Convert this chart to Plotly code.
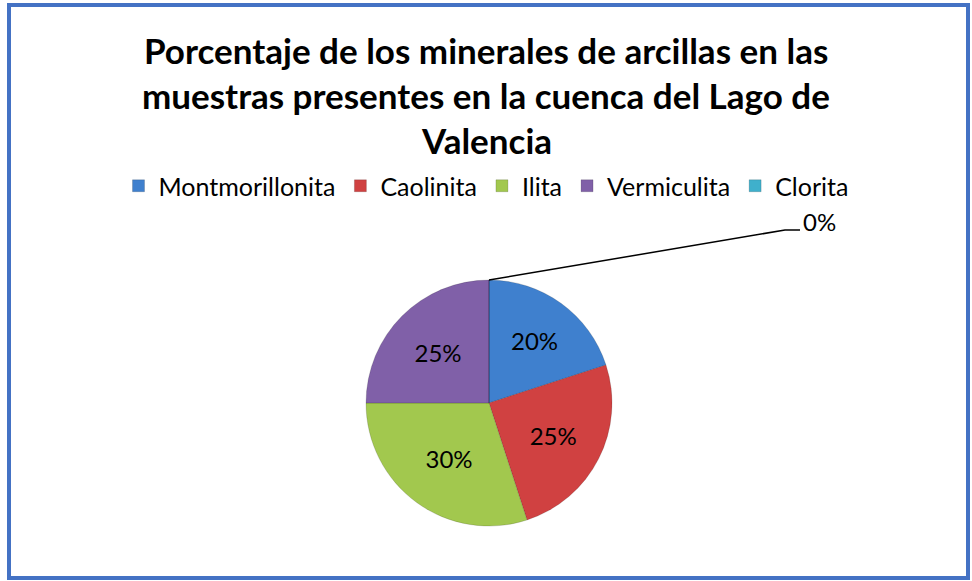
import plotly.graph_objects as go

labels = ["Montmorillonita", "Caolinita", "Ilita", "Vermiculita", "Clorita"]
values = [20, 25, 30, 25, 0]
colors = ["#3F80CE", "#D04141", "#A2C84E", "#8060A8", "#3FB0CC"]
title_lines = ["Porcentaje de los minerales de arcillas en las",
               "muestras presentes en la cuenca del Lago de",
               "Valencia"]

W, H = 972, 581
cx, cy, r = 489, 403, 123
dom_x = [(cx - r) / W, (cx + r) / W]
dom_y = [(H - cy - r) / H, (H - cy + r) / H]

fig = go.Figure(go.Pie(
    labels=labels, values=values, sort=False, direction="clockwise", rotation=0,
    marker=dict(colors=colors, line=dict(width=0.6, color="rgba(0,0,0,0.25)")),
    textinfo="percent", texttemplate="%{percent:.0%}",
    textposition="inside", insidetextorientation="horizontal",
    textfont=dict(family="Lato", size=24, color="black"),
    domain=dict(x=dom_x, y=dom_y), showlegend=True, hoverinfo="label+percent",
))

top_x = (dom_x[0] + dom_x[1]) / 2
top_y = dom_y[1]
fig.add_shape(type="path", xref="paper", yref="paper",
              path=f"M {top_x},{top_y} L {785/W},{1-230/H} L {800/W},{1-230/H}",
              line=dict(color="black", width=1.5))
fig.add_annotation(x=801/W, y=1-222/H, xref="paper", yref="paper", text="0%",
                   showarrow=False, xanchor="left", yanchor="middle",
                   font=dict(family="Lato", size=24, color="black"))

# title lines
for i, line in enumerate(title_lines):
    fig.add_annotation(x=0.5, y=1 - (50 + 45 * i) / H, xref="paper", yref="paper", text=f"<b>{line}</b>",
                       showarrow=False, xanchor="center", yanchor="middle",
                       font=dict(family="Lato", size=35, color="black"))

fig.add_shape(type="rect", xref="paper", yref="paper", x0=9/W, x1=968/W, y0=1-578/H, y1=1-5/H,
              line=dict(color="#4472C4", width=4))

fig.update_layout(
    width=W, height=H, margin=dict(l=0, r=0, t=0, b=0),
    paper_bgcolor="white", plot_bgcolor="white",
    legend=dict(orientation="h", x=0.5, xanchor="center", y=1-186/H, yanchor="middle",
                font=dict(family="Lato", size=25, color="black"), itemwidth=30),
)
fig.write_html("out.html", config={"displayModeBar": False},
               post_script="document.body.style.margin='0';document.body.style.overflow='hidden';")
